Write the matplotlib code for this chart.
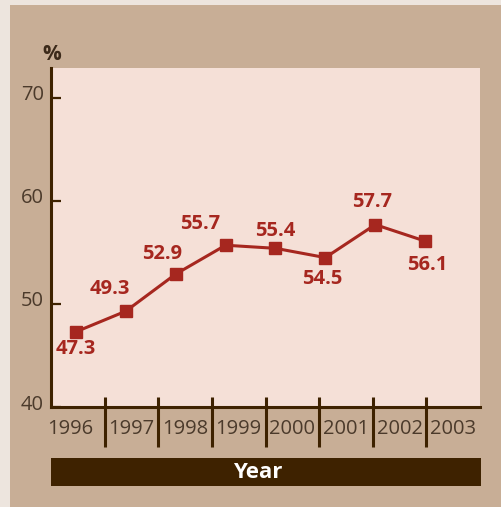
import matplotlib
matplotlib.use("Agg")
import matplotlib.pyplot as plt
import matplotlib.transforms as mtransforms
from matplotlib.patches import Rectangle

years = ["1996", "1997", "1998", "1999", "2000", "2001", "2002", "2003"]
values = [47.3, 49.3, 52.9, 55.7, 55.4, 54.5, 57.7, 56.1]
yticks = [40, 50, 60, 70]
# label offsets (pixels) relative to each point
label_dx = [0, -16, -14, -25, 0, -3, -3, 2]
label_dy = [-17, 22, 20, 21, 17, -21, 23, -24]

plt.rcParams['font.family'] = ['Open Sans', 'DejaVu Sans']

W, H = 501, 507
fig = plt.figure(figsize=(W / 100, H / 100), dpi=100)
fig.patch.set_facecolor("#ede5de")
fig.patches.append(Rectangle((10 / W, 0), 1 - 10 / W, 1 - 5 / H, transform=fig.transFigure,
                             facecolor="#c8ae96", edgecolor="none", zorder=-10))

ax = fig.add_axes([51 / W, 1 - 407 / H, (480 - 51) / W, (407 - 68) / H])
ax.set_zorder(2)
ax.set_facecolor("#f5e0d7")

red = "#a6271f"
dark = "#3e2200"
txt = "#4b3a2b"

x = list(range(len(values)))
ax.plot(x, values, color=red, lw=2.2, marker="s", markersize=9, zorder=3)

for xi, v, dx, dy in zip(x, values, label_dx, label_dy):
    ax.annotate(f"{v}", (xi, v), xytext=(dx, dy), textcoords="offset pixels",
                ha="center", va="center", color=red, fontsize=14.5, fontweight="bold")

span = 8.6
ax.set_xlim(-0.5, -0.5 + span)
ax.set_ylim(40, 72.9)
band = span / len(years)

# y axis
ax.set_yticks(yticks)
ax.set_yticklabels([str(t) for t in yticks])
ax.tick_params(axis="y", direction="in", length=7, width=1.6, color=dark,
               labelsize=14.5, labelcolor=txt, pad=5)
for lab in ax.get_yticklabels():
    lab.set_transform(lab.get_transform() + mtransforms.ScaledTranslation(0, 5 / 100, fig.dpi_scale_trans))

# x axis: labels at band centers, separators at boundaries
centers = [-0.5 + (i + 0.5) * band for i in range(len(years))]
ax.set_xticks(centers)
ax.set_xticklabels(years)
ax.tick_params(axis="x", length=0, labelsize=14.5, labelcolor=txt, pad=9)
first = ax.get_xticklabels()[0]
first.set_transform(first.get_transform() + mtransforms.ScaledTranslation(-8 / 100, 0, fig.dpi_scale_trans))
bounds = [-0.5 + (i + 1) * band for i in range(len(years) - 1)]
trans = mtransforms.blended_transform_factory(ax.transData, ax.transAxes)
ax.vlines(bounds, -40 / 339, 10 / 339, transform=trans, color=dark, lw=2.2, clip_on=False, zorder=4)

for s in ["top", "right"]:
    ax.spines[s].set_visible(False)
for s in ["left", "bottom"]:
    ax.spines[s].set_color(dark)
    ax.spines[s].set_linewidth(2.2)

fig.text(52 / W, 1 - 54 / H, "%", ha="center", va="center", fontsize=15, fontweight="bold", color="#3c2a1a")

# Year bar
fig.patches.append(Rectangle((51 / W, 1 - 486 / H), (481 - 51) / W, 28 / H, transform=fig.transFigure,
                             facecolor=dark, edgecolor="none", zorder=1))
fig.text(258 / W, 1 - 472 / H, "Year", ha="center", va="center", fontsize=16, fontweight="bold", color="white")

fig.savefig("out.png", dpi=100, facecolor=fig.get_facecolor())
